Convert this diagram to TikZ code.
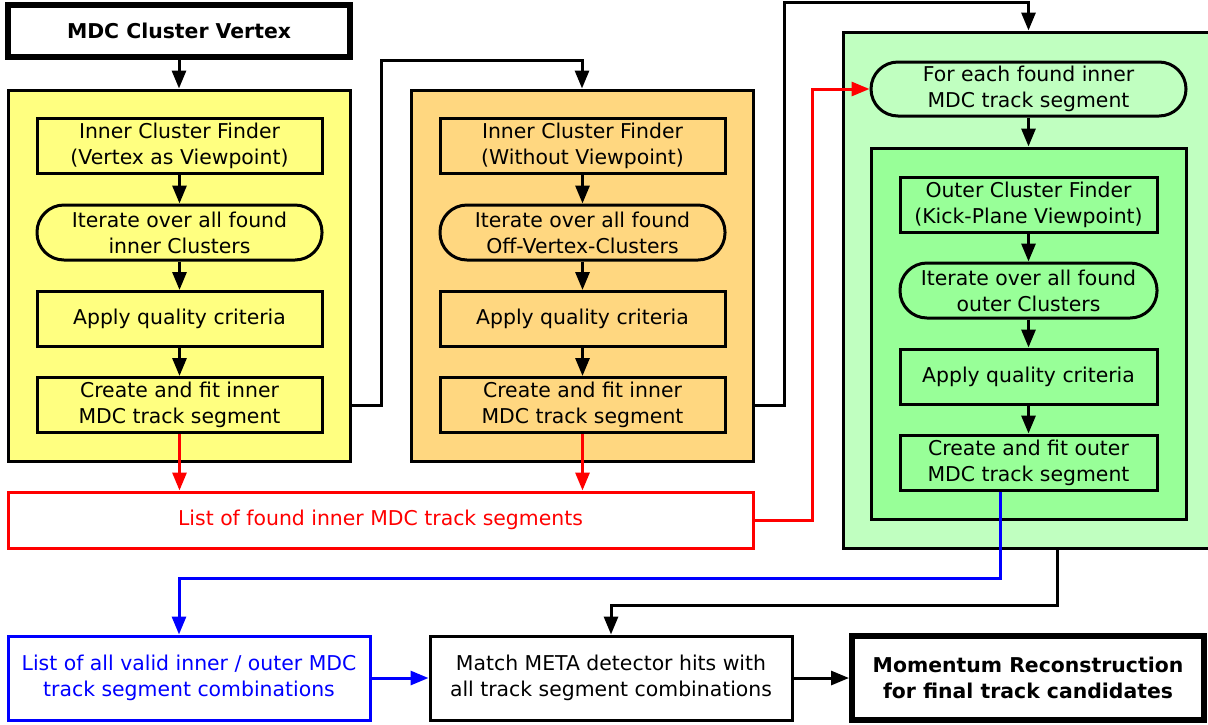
\documentclass[tikz,border=0pt]{standalone}
\usepackage{fontspec}
\setmainfont{DejaVu Sans}
\usetikzlibrary{arrows.meta,positioning}
\definecolor{yelbg}{RGB}{255,255,128}
\definecolor{orabg}{RGB}{255,215,128}
\definecolor{grnbg}{RGB}{192,255,192}
\definecolor{grnin}{RGB}{152,255,152}

\begin{document}
\begin{tikzpicture}[x=0.5pt,y=-0.5pt,
    font=\fontsize{10.2}{13}\selectfont,
    >={Triangle[length=9pt,width=7pt]},
    flow/.style={->,line width=1.5pt},
    frame/.style={rectangle, draw, line width=1.5pt, inner sep=0pt},
    stepbox/.style={rectangle, draw, line width=1.5pt, align=center, inner sep=0pt,
      minimum width=142.5pt, minimum height=27.5pt},
    loopbox/.style={stepbox, rounded corners=13.5pt},
    outerbox/.style={stepbox, minimum width=128.5pt},
    outerloop/.style={outerbox, rounded corners=13.5pt},
    iobox/.style={stepbox, minimum width=181pt, minimum height=42pt},
    endbox/.style={iobox, line width=3pt, font=\fontsize{10.2}{13}\selectfont\bfseries}]
      \useasboundingbox (0,0) rectangle (1208,724);
      \clip (0,0) rectangle (1208,724);
      % start
      \node[endbox, minimum width=171pt, minimum height=26pt] at (179,31) (vertex) {MDC Cluster Vertex};
      % inner finder with vertex
      \node[frame, fill=yelbg, minimum width=171pt, minimum height=185.5pt] at (179,275.5) (yellow) {};
      \node[stepbox, fill=yelbg] at (179.5,145.5) (yfind) {Inner Cluster Finder\\(Vertex as Viewpoint)};
      \node[loopbox, fill=yelbg] at (179.5,232.5) (yiter) {Iterate over all found\\inner Clusters};
      \node[stepbox, fill=yelbg] at (179.5,319) (yqual) {Apply quality criteria};
      \node[stepbox, fill=yelbg] at (179.5,405) (yfit) {Create and fit inner\\MDC track segment};
      % inner finder without vertex
      \node[frame, fill=orabg, minimum width=171pt, minimum height=185.5pt] at (582,275.5) (orange) {};
      \node[stepbox, fill=orabg] at (582.5,145.5) (ofind) {Inner Cluster Finder\\(Without Viewpoint)};
      \node[loopbox, fill=orabg] at (582.5,232.5) (oiter) {Iterate over all found\\Off-Vertex-Clusters};
      \node[stepbox, fill=orabg] at (582.5,319) (oqual) {Apply quality criteria};
      \node[stepbox, fill=orabg] at (582.5,405) (ofit) {Create and fit inner\\MDC track segment};
      % outer finder
      \node[frame, fill=grnbg, minimum width=185.5pt, minimum height=258pt] at (1028.5,290) (green) {};
      \node[stepbox, rounded corners=13.5pt, fill=grnbg, minimum width=157.5pt, minimum height=27pt] at (1028.5,89) (foreach) {For each found inner\\MDC track segment};
      \node[frame, fill=grnin, minimum width=157.5pt, minimum height=185.5pt] at (1028.5,333.5) (ginner) {};
      \node[outerbox, fill=grnin] at (1028.5,204.5) (gfind) {Outer Cluster Finder\\(Kick-Plane Viewpoint)};
      \node[outerloop, fill=grnin] at (1028.5,290.5) (giter) {Iterate over all found\\outer Clusters};
      \node[outerbox, fill=grnin] at (1028.5,376.5) (gqual) {Apply quality criteria};
      \node[outerbox, fill=grnin] at (1028.5,462.5) (gfit) {Create and fit outer\\MDC track segment};
      % lists and output
      \node[stepbox, draw=red, text=red, minimum width=372.5pt, minimum height=28pt] at (380.5,520) (innerlist) {List of found inner MDC track segments};
      \node[iobox, draw=blue, text=blue] at (189,678) (combis) {List of all valid inner / outer MDC\\track segment combinations};
      \node[iobox] at (611,678) (meta) {Match META detector hits with\\all track segment combinations};
      \node[endbox, minimum width=176pt] at (1028,678) (momentum) {Momentum Reconstruction\\for final track candidates};
      % bends
      \coordinate (ybend) at (381,60);
      \coordinate (obend) at (784,2);
      \coordinate (rbend) at (812,89);
      \coordinate (bdown) at (1000,578);
      \coordinate (bleft) at (179,578);
      \coordinate (gdown) at (1057,605);
      % connectors
      \draw[flow] (vertex) -- (yellow);
      \draw[flow] (yfind) -- (yiter);
      \draw[flow] (yiter) -- (yqual);
      \draw[flow] (yqual) -- (yfit);
      \draw[flow] (ofind) -- (oiter);
      \draw[flow] (oiter) -- (oqual);
      \draw[flow] (oqual) -- (ofit);
      \draw[flow] (foreach) -- (ginner);
      \draw[flow] (gfind) -- (giter);
      \draw[flow] (giter) -- (gqual);
      \draw[flow] (gqual) -- (gfit);
      \draw[flow] (yellow.east |- yfit) -| (ybend) -| (orange.north);
      \draw[flow] (orange.east |- ofit) -| (obend) -| (foreach.north |- green.north);
      \draw[flow,red] (yfit) -- (yfit |- innerlist.north);
      \draw[flow,red] (ofit) -- (ofit |- innerlist.north);
      \draw[flow,red] (innerlist.east) -| (rbend) -- (foreach.west);
      \draw[flow,blue] (bdown |- gfit.south) -- (bdown) -- (bleft) -- (bleft |- combis.north);
      \draw[flow] (gdown |- green.south) -- (gdown) -| (meta.north);
      \draw[flow,blue] (combis) -- (meta);
      \draw[flow] (meta) -- (momentum);
\end{tikzpicture}
\end{document}
